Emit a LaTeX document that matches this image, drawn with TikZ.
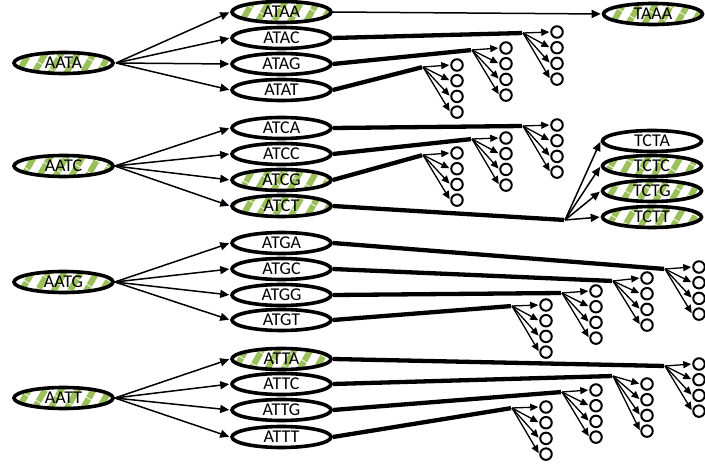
\documentclass[tikz,border=0pt]{standalone}
\usepackage{fontspec}
\setmainfont{Carlito}
\usepackage{xcolor}
\usepackage{tikz}
\usetikzlibrary{arrows.meta, patterns.meta, shapes.geometric}

\definecolor{stripegreen}{RGB}{155,192,90}

\tikzset{
  kmer/.style={draw, ellipse, line width=3.6pt, minimum width=99pt, minimum height=21pt,
    inner sep=0pt, font=\fontsize{18}{19}\selectfont},
  seen/.style={kmer, pattern={Lines[angle=60,distance=14pt,line width=6pt]}, pattern color=stripegreen},
  leaf/.style={draw, circle, line width=2pt, minimum size=11.5pt, inner sep=0pt},
  walk/.style={line width=4.3pt},
}

\begin{document}
\begin{tikzpicture}[x=1pt,y=-1pt,->,>={Triangle[length=9pt,width=8pt]},shorten >=1pt,line width=1.5pt]
  \useasboundingbox (0,0) rectangle (705,468);

  % premiers k-mers
  \node[seen] (AATA) at (63.5,63) {AATA};
  \node[seen] (AATC) at (63.5,166) {AATC};
  \node[seen] (AATG) at (63.5,282) {AATG};
  \node[seen] (AATT) at (63.5,398) {AATT};

  % successeurs
  \node[seen] (ATAA) at (281.5,12) {ATAA};
  \node[kmer] (ATAC) at (281.5,38) {ATAC};
  \node[kmer] (ATAG) at (281.5,64) {ATAG};
  \node[kmer] (ATAT) at (281.5,90) {ATAT};

  \node[kmer] (ATCA) at (281.5,128) {ATCA};
  \node[kmer] (ATCC) at (281.5,154) {ATCC};
  \node[seen] (ATCG) at (281.5,180) {ATCG};
  \node[seen] (ATCT) at (281.5,206) {ATCT};

  \node[kmer] (ATGA) at (281.5,243) {ATGA};
  \node[kmer] (ATGC) at (281.5,269) {ATGC};
  \node[kmer] (ATGG) at (281.5,295) {ATGG};
  \node[kmer] (ATGT) at (281.5,320) {ATGT};

  \node[seen] (ATTA) at (281.5,359) {ATTA};
  \node[kmer] (ATTC) at (281.5,384) {ATTC};
  \node[kmer] (ATTG) at (281.5,410) {ATTG};
  \node[kmer] (ATTT) at (281.5,437) {ATTT};

  % a droite
  \node[seen] (TAAA) at (653,14) {TAAA};
  \node[kmer] (TCTA) at (652,141) {TCTA};
  \node[seen] (TCTC) at (652,166) {TCTC};
  \node[seen] (TCTG) at (652,191) {TCTG};
  \node[seen] (TCTT) at (652,217) {TCTT};

  % aretes du premier niveau
  \foreach \m in {ATAA,ATAC,ATAG,ATAT} \draw (AATA.east) -- (\m.west);
  \foreach \m in {ATCA,ATCC,ATCG,ATCT} \draw (AATC.east) -- (\m.west);
  \foreach \m in {ATGA,ATGC,ATGG,ATGT} \draw (AATG.east) -- (\m.west);
  \foreach \m in {ATTA,ATTC,ATTG,ATTT} \draw (AATT.east) -- (\m.west);

  \draw (ATAA.east) -- (TAAA.west);

  \coordinate (ATCT-b) at (565,220);
  \draw[walk,-] (ATCT.east) -- (ATCT-b);
  \foreach \m in {TCTA,TCTC,TCTG,TCTT} \draw (ATCT-b) -- (\m.west);

  % chemins longs vers les feuilles
  \foreach \s/\bx/\by/\cy in {ATAC/523/33/32, ATAG/472/50/48, ATAT/423/67/65,
      ATCA/523/126/125, ATCC/472/139/138, ATCG/423/155/153,
      ATGA/665/269/267, ATGC/613/281/278, ATGG/562/293/291, ATGT/512/306/305,
      ATTA/665/366/364, ATTC/613/376/384, ATTG/562/392/390, ATTT/512/408/407} {
    \coordinate (\s-b) at (\bx,\by);
    \draw[walk,-] (\s.east) -- (\s-b);
    \foreach \k in {1,...,4} {
      \pgfmathsetmacro{\lx}{\bx+34}
      \pgfmathsetmacro{\ly}{\cy+15.7*(\k-1)}
      \node[leaf] (\s-\k) at (\lx,\ly) {};
      \draw[line width=1.3pt,>={Triangle[length=8pt,width=7pt]}] (\s-b) -- (\s-\k.west);
    }
  }
\end{tikzpicture}
\end{document}
